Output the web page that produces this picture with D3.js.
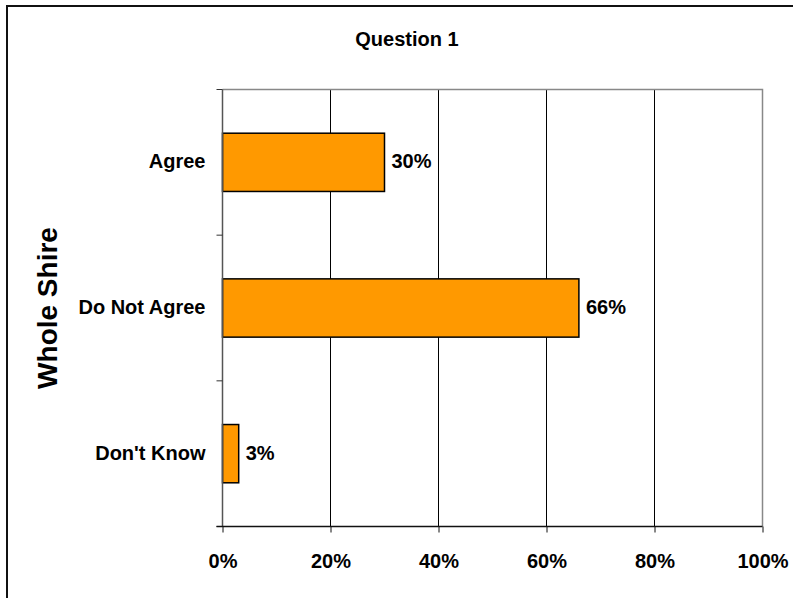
<!DOCTYPE html>
<html><head><meta charset="utf-8">
<script src="https://cdn.jsdelivr.net/npm/d3@7"></script>
<style>
html,body{margin:0;padding:0;background:#fff;}
svg text{font-family:"Liberation Sans",Arial,sans-serif;font-weight:bold;fill:#000;}
</style></head>
<body>
<svg id="chart" width="793" height="598"></svg>
<script>
const categories = ["Agree", "Do Not Agree", "Don't Know"];
const values = [30, 66, 3];
const valueLabels = ["30%", "66%", "3%"];
const xTicks = [0, 20, 40, 60, 80, 100];
const title = "Question 1";
const yTitle = "Whole Shire";

const svg = d3.select("#chart");
const W = 793, H = 598;
svg.append("rect").attr("x",0).attr("y",0).attr("width",W).attr("height",H).attr("fill","#fff");
// outer frame
svg.append("rect").attr("x",7).attr("y",6).attr("width",W+10).attr("height",H+10)
  .attr("fill","none").attr("stroke","#111").attr("stroke-width",2);

const L = 222.5, R = 762.5, T = 89.5, B = 526.5;
const x = d3.scaleLinear().domain([0,100]).range([L,R]);
const yCat = d3.scaleBand().domain(categories).range([T,B]).paddingInner(0.6).paddingOuter(0.3);
const yBound = d3.scaleBand().domain(categories).range([T,B]).padding(0);

// gridlines
svg.append("g").selectAll("line").data(xTicks.slice(1,-1)).join("line")
  .attr("x1",d=>x(d)).attr("x2",d=>x(d)).attr("y1",T).attr("y2",B)
  .attr("stroke","#000").attr("stroke-width",1);
// top & right border
svg.append("path").attr("d",`M${L},${T}H${R}V${B}`).attr("fill","none").attr("stroke","#888").attr("stroke-width",1.5);

// bars
svg.append("g").selectAll("rect").data(categories).join("rect")
  .attr("x",x(0)).attr("y",d=>yCat(d))
  .attr("width",(d,i)=>x(values[i])-x(0)).attr("height",yCat.bandwidth())
  .attr("fill","#FF9900").attr("stroke","#000").attr("stroke-width",1.5);

// value labels
svg.append("g").selectAll("text").data(categories).join("text")
  .attr("x",(d,i)=>x(values[i])+7).attr("y",d=>yCat(d)+yCat.bandwidth()/2-1)
  .attr("dy","0.35em").attr("font-size",20).text((d,i)=>valueLabels[i]);

// y axis (left)
const yBounds = categories.map(c=>yBound(c)).concat([B]);
svg.append("line").attr("x1",L).attr("x2",L).attr("y1",T).attr("y2",B).attr("stroke","#555").attr("stroke-width",1.5);
svg.append("g").selectAll("line").data(yBounds).join("line")
  .attr("x1",L-6).attr("x2",L).attr("y1",d=>d).attr("y2",d=>d).attr("stroke","#333").attr("stroke-width",1);
svg.append("g").selectAll("text").data(categories).join("text")
  .attr("x",L-17).attr("y",d=>yCat(d)+yCat.bandwidth()/2-1).attr("dy","0.35em")
  .attr("text-anchor","end").attr("font-size",20).text(d=>d);

// x axis (bottom)
const xAxis = d3.axisBottom(x).tickValues(xTicks).tickFormat(d=>d+"%").tickSize(6).tickSizeOuter(0);
const gx = svg.append("g").attr("transform",`translate(0,${B})`).call(xAxis);
gx.select(".domain").remove();
svg.append("line").attr("x1",L-6).attr("x2",R).attr("y1",B).attr("y2",B).attr("stroke","#111").attr("stroke-width",1.5);
gx.selectAll(".tick line").attr("stroke","#111");
gx.selectAll(".tick text").attr("y",34).attr("dy","0.35em").attr("font-size",20)
  .style("font-family",'"Liberation Sans",Arial,sans-serif').style("font-weight","bold");

// title
svg.append("text").attr("x",407).attr("y",39).attr("dy","0.35em").attr("text-anchor","middle")
  .attr("font-size",20).text(title);

// y title
svg.append("text").attr("transform",`translate(47,308) rotate(-90)`).attr("dy","0.35em")
  .attr("text-anchor","middle").attr("font-size",28).text(yTitle);
</script>
</body></html>
